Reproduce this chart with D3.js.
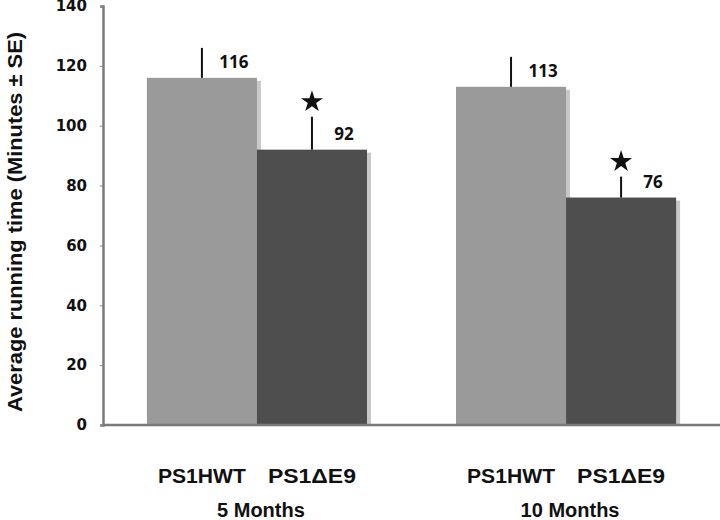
<!DOCTYPE html>
<html>
<head>
<meta charset="utf-8">
<script src="https://cdn.jsdelivr.net/npm/d3@7"></script>
<style>
  body { margin: 0; background: #fff; }
</style>
</head>
<body>
<div id="container"></div>
<script>
/**
 * CONSTANTS AND DATA
 * */
const width = 720,
  height = 520,
  margin = { top: 6, bottom: 95, left: 103, right: 0 };

const groups = ["5 Months", "10 Months"];
const genotypes = ["PS1HWT", "PS1\u0394E9"];
const means = [[116, 92], [113, 76]];
const errors = [[10, 11], [10, 7]];
const significant = [[false, true], [false, true]];
const yTicks = [0, 20, 40, 60, 80, 100, 120, 140];
const colors = ["#9a9a9a", "#4e4e4e"];

// flatten to one row per bar
const bars = [];
groups.forEach((g, i) => {
  genotypes.forEach((t, j) => {
    bars.push({ group: g, type: t, value: means[i][j], se: errors[i][j], star: significant[i][j] });
  });
});

const svg = d3.select("#container")
  .append("svg")
  .attr("width", width)
  .attr("height", height)
  .style("font-family", "'Liberation Sans', Arial, sans-serif");

const y = d3.scaleLinear()
  .domain([0, 140])
  .range([height - margin.bottom, margin.top]);

const x0 = d3.scaleBand()
  .domain(groups)
  .range([margin.left, width - margin.right])
  .paddingInner(0.288)
  .paddingOuter(0.142);

const x1 = d3.scaleBand()
  .domain(genotypes)
  .range([0, x0.bandwidth()]);

const cx = d => x0(d.group) + x1(d.type) + x1.bandwidth() / 2;

// soft shadow behind bars
svg.selectAll("rect.shadow")
  .data(bars)
  .join("rect")
  .attr("class", "shadow")
  .attr("x", d => x0(d.group) + x1(d.type) + 4)
  .attr("y", d => y(d.value) + 3)
  .attr("width", x1.bandwidth())
  .attr("height", d => y(0) - y(d.value) - 3)
  .attr("fill", "#c8c8c8");

svg.selectAll("rect.bar")
  .data(bars)
  .join("rect")
  .attr("class", "bar")
  .attr("x", d => x0(d.group) + x1(d.type))
  .attr("y", d => y(d.value))
  .attr("width", x1.bandwidth())
  .attr("height", d => y(0) - y(d.value))
  .attr("fill", d => colors[genotypes.indexOf(d.type)]);

// error bars (upper half only)
svg.selectAll("line.err")
  .data(bars)
  .join("line")
  .attr("class", "err")
  .attr("x1", cx).attr("x2", cx)
  .attr("y1", d => y(d.value))
  .attr("y2", d => y(d.value + d.se))
  .attr("stroke", "#111")
  .attr("stroke-width", 2);

// value labels
svg.selectAll("text.val")
  .data(bars)
  .join("text")
  .attr("class", "val")
  .attr("x", d => cx(d) + 32)
  .attr("y", d => y(d.value + 5.3))
  .attr("dy", "0.35em")
  .attr("text-anchor", "middle")
  .style("font-family", "'Open Sans', sans-serif")
  .style("font-weight", "bold")
  .style("font-size", "17px")
  .attr("fill", "#111")
  .text(d => d.value);

// significance stars
const star = d3.symbol().type(d3.symbolStar).size(150);
svg.selectAll("path.star")
  .data(bars.filter(d => d.star))
  .join("path")
  .attr("class", "star")
  .attr("d", star)
  .attr("transform", d => `translate(${cx(d)}, ${y(d.value + d.se) - 15})`)
  .attr("fill", "#111");

// axes
const yAxis = svg.append("g")
  .attr("transform", `translate(${margin.left}, 0)`)
  .call(d3.axisLeft(y).tickValues(yTicks).tickSize(3).tickPadding(13));
yAxis.select(".domain").attr("stroke", "#7a7a7a").attr("stroke-width", 2.5);
yAxis.selectAll(".tick line").attr("stroke", "#888");
yAxis.selectAll(".tick text")
  .style("font-family", "'DejaVu Sans', sans-serif")
  .style("font-weight", "bold")
  .style("font-size", "15px")
  .attr("fill", "#111");

svg.append("line")
  .attr("x1", margin.left)
  .attr("x2", width - margin.right)
  .attr("y1", y(0))
  .attr("y2", y(0))
  .attr("stroke", "#7a7a7a")
  .attr("stroke-width", 2.5);

// category labels
svg.selectAll("text.cat")
  .data(bars)
  .join("text")
  .attr("class", "cat")
  .attr("x", cx)
  .attr("y", 483)
  .attr("text-anchor", "middle")
  .style("font-weight", "bold")
  .style("font-size", "20px")
  .attr("textLength", 88)
  .attr("lengthAdjust", "spacingAndGlyphs")
  .attr("fill", "#111")
  .text(d => d.type);

svg.selectAll("text.grp")
  .data(groups)
  .join("text")
  .attr("class", "grp")
  .attr("x", d => x0(d) + x0.bandwidth() / 2 + 4)
  .attr("y", 517)
  .attr("text-anchor", "middle")
  .style("font-weight", "bold")
  .style("font-size", "20px")
  .attr("fill", "#111")
  .text(d => d);

// y title
svg.append("text")
  .attr("transform", "translate(22, 222) rotate(-90)")
  .attr("text-anchor", "middle")
  .style("font-weight", "bold")
  .style("font-size", "21px")
  .attr("textLength", 380)
  .attr("lengthAdjust", "spacingAndGlyphs")
  .attr("fill", "#111")
  .text("Average running time (Minutes \u00b1 SE)");
</script>
</body>
</html>
